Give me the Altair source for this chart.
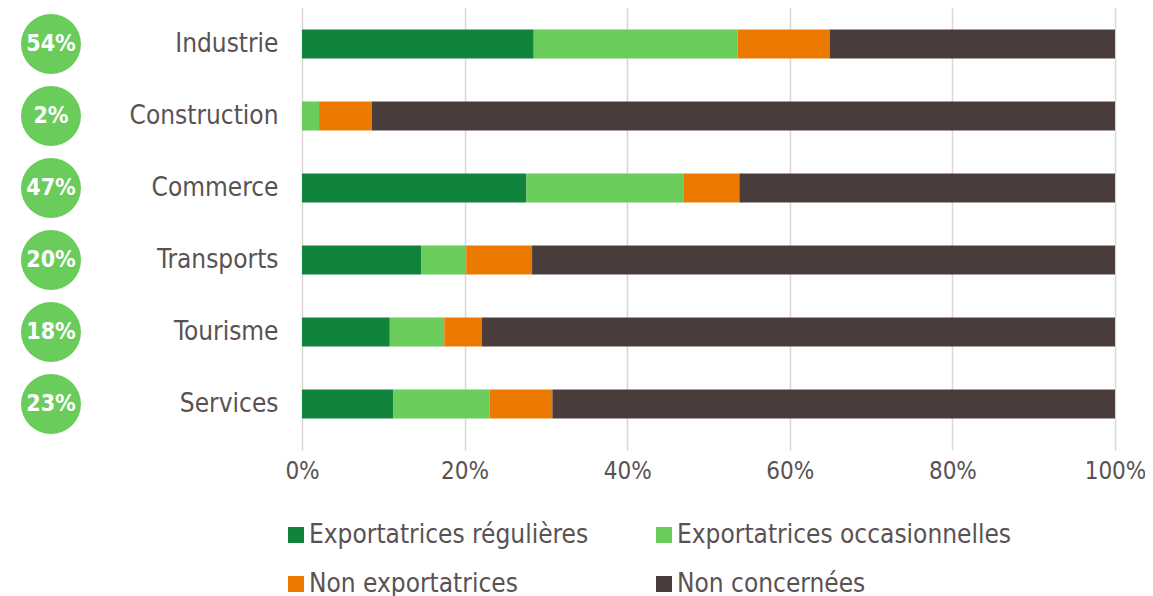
import altair as alt
import pandas as pd

sectors = ["Industrie", "Construction", "Commerce", "Transports", "Tourisme", "Services"]
regulieres = [28.5, 0.0, 27.6, 14.7, 10.8, 11.2]
occasionnelles = [25.1, 2.1, 19.3, 5.5, 6.7, 11.9]
non_export = [11.3, 6.5, 6.9, 8.1, 4.6, 7.7]
non_concernees = [35.1, 91.4, 46.2, 71.7, 77.9, 69.2]
badges = ["54%", "2%", "47%", "20%", "18%", "23%"]
categories = ["Exportatrices régulières", "Exportatrices occasionnelles",
              "Non exportatrices", "Non concernées"]
colors = ["#10843c", "#6acd5b", "#ec7a00", "#4a3c3b"]
tick_values = [0, 0.2, 0.4, 0.6, 0.8, 1.0]

# legend shows two columns filled column-first
legend_order = [categories[0], categories[2], categories[1], categories[3]]
legend_colors = [colors[0], colors[2], colors[1], colors[3]]

FONT = "DejaVu Sans Condensed, Roboto"
TEXT = "#5a5252"
GRID = "#dcd6d6"

rows = []
for series_idx, (cat, vals) in enumerate(zip(categories, [regulieres, occasionnelles, non_export, non_concernees])):
    for s, v in zip(sectors, vals):
        rows.append({"Secteur": s, "Type": cat, "Valeur": v, "ordre": series_idx})
df = pd.DataFrame(rows)
badge_df = pd.DataFrame({"Secteur": sectors, "Badge": badges})

y_enc = alt.Y("Secteur:N", sort=sectors,
              scale=alt.Scale(paddingInner=0.6, paddingOuter=0.3),
              axis=alt.Axis(title=None, labelFontSize=26, labelFont=FONT, labelColor=TEXT,
                            labelPadding=24, ticks=False, domain=False, grid=False))

bars = alt.Chart(df).mark_bar(size=29).encode(
    y=y_enc,
    x=alt.X("Valeur:Q", stack="normalize",
            scale=alt.Scale(domain=[0, 1], nice=False),
            axis=alt.Axis(title=None, format="%", values=tick_values, labelFontSize=24,
                          labelFont=FONT, labelColor=TEXT, labelPadding=9, domain=False,
                          ticks=True, tickSize=10, tickColor=GRID, tickWidth=1.5,
                          grid=True, gridColor=GRID, gridWidth=1.5, labelFlush=False)),
    color=alt.Color("Type:N",
                    scale=alt.Scale(domain=legend_order, range=legend_colors),
                    legend=alt.Legend(title=None, orient="none", legendX=-19, legendY=514,
                                      columns=2, symbolType="square", symbolSize=256,
                                      symbolStrokeWidth=0, labelFontSize=26, labelFont=FONT,
                                      labelColor=TEXT, labelLimit=0, labelOffset=0,
                                      columnPadding=62, rowPadding=23)),
    order=alt.Order("ordre:Q"),
)

circles = alt.Chart(badge_df).mark_circle(size=3600, color="#6acd5b", opacity=1).encode(
    y=alt.Y("Secteur:N", sort=sectors),
    x=alt.value(-251),
)

labels = alt.Chart(badge_df).mark_text(fontSize=23, fontWeight="bold", color="white",
                                       font=FONT, baseline="middle", align="center").encode(
    y=alt.Y("Secteur:N", sort=sectors),
    x=alt.value(-251),
    text="Badge:N",
)

chart = alt.layer(bars, circles, labels).properties(
    width=813, height=432,
    autosize=alt.AutoSizeParams(type="none"),
    padding={"left": 294, "top": 0, "right": 30, "bottom": 156},
).configure_view(stroke=None)

chart.save("out.html", embed_options={"renderer": "svg", "actions": False})
